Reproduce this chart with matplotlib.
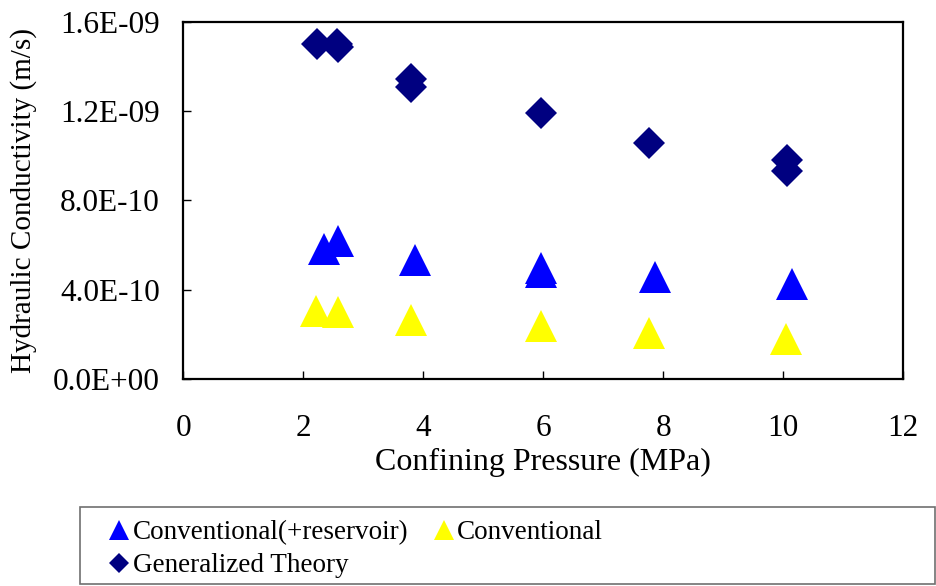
import matplotlib
matplotlib.use("Agg")
import matplotlib.pyplot as plt
from matplotlib.ticker import FuncFormatter, MultipleLocator
from matplotlib.patches import Rectangle

# Confining pressure (MPa) and hydraulic conductivity (m/s)
p_reservoir = [2.35, 2.57, 3.86, 5.96, 5.96, 7.86, 10.15]
k_reservoir = [5.80e-10, 6.17e-10, 5.35e-10, 4.96e-10, 4.81e-10, 4.56e-10, 4.26e-10]

p_conventional = [2.21, 2.57, 3.80, 5.96, 7.76, 10.04]
k_conventional = [3.05e-10, 3.01e-10, 2.66e-10, 2.37e-10, 2.08e-10, 1.80e-10]

p_general = [2.22, 2.56, 2.58, 3.80, 3.80, 5.96, 7.76, 10.06, 10.06]
k_general = [1.501e-09, 1.501e-09, 1.488e-09, 1.342e-09, 1.306e-09,
             1.192e-09, 1.059e-09, 0.979e-09, 0.933e-09]

series_labels = ["Conventional(+reservoir)", "Conventional", "Generalized Theory"]
x_ticks = [0, 2, 4, 6, 8, 10, 12]

plt.rcParams["font.family"] = ["Liberation Serif", "DejaVu Serif"]

fig = plt.figure(figsize=(9.36, 5.86), dpi=100)
ax = fig.add_axes([183.3 / 936, 1 - 379 / 586, 720 / 936, 357.3 / 586])

h_res, = ax.plot(p_reservoir, k_reservoir, linestyle="none", marker="^",
                 markersize=23, color="#0000FF", markeredgewidth=0)
h_con, = ax.plot(p_conventional, k_conventional, linestyle="none", marker="^",
                 markersize=23, color="#FFFF00", markeredgewidth=0)
h_gen, = ax.plot(p_general, k_general, linestyle="none", marker="D",
                 markersize=16.3, color="#000080", markeredgewidth=0)

ax.set_xlim(0, 12)
ax.set_ylim(0, 1.6e-09)
ax.set_xticks(x_ticks)
ax.yaxis.set_major_locator(MultipleLocator(4e-10))
ax.yaxis.set_major_formatter(FuncFormatter(lambda v, _: f"{v:.1E}"))

for s in ax.spines.values():
    s.set_linewidth(1.6)
    s.set_color("black")

ax.tick_params(axis="both", direction="in", length=6, width=1, labelsize=22.5)
ax.tick_params(axis="y", pad=17)
ax.tick_params(axis="x", pad=25)

ax.set_xlabel("Confining Pressure (MPa)", fontsize=23, labelpad=4)
ax.set_ylabel("Hydraulic Conductivity (m/s)", fontsize=21)
ax.yaxis.set_label_coords(37 / 936, 0.5 * (1 - 379 / 586 + 1 - 21.7 / 586),
                          transform=fig.transFigure)

# Legend box spanning the bottom of the figure
fig.patches.append(Rectangle((80 / 936, 2 / 586), (935 - 80) / 936, (584 - 507) / 586,
                             transform=fig.transFigure, facecolor="white",
                             edgecolor="#707070", linewidth=1.2, zorder=0))

fig.legend([h_res, h_gen, h_con],
           [series_labels[0], series_labels[2], series_labels[1]],
           ncol=2, loc="upper left", bbox_to_anchor=(108.5 / 936, 1 - 520 / 586),
           frameon=False, fontsize=19.5, markerscale=0.63, handlelength=0.8,
           handletextpad=0.1, columnspacing=0.9, labelspacing=0.3,
           borderpad=0.0, borderaxespad=0.0)

fig.savefig("out.png", dpi=100)
